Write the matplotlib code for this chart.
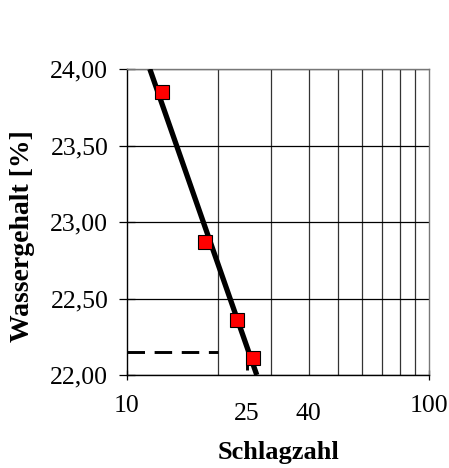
import matplotlib
matplotlib.use("Agg")
import matplotlib.pyplot as plt
from matplotlib.ticker import FixedLocator, FixedFormatter

# Data
schlagzahl = [13.1, 18.1, 23.1, 26.1]
wassergehalt = [23.85, 22.87, 22.36, 22.11]
fit_x = [11.9, 26.9]
fit_y = [24.00, 22.00]
ref_x = [10, 20]
ref_y = [22.15, 22.15]
ref_vx = [25, 25]
ref_vy = [22.03, 22.15]
grid_x = [20, 30, 40, 50, 60, 70, 80, 90]
major_xticks = [10, 100]
major_xlabels = ["10", "100"]
minor_xticks = [25, 40]
minor_xlabels = ["25", "40"]
yticks = [22.0, 22.5, 23.0, 23.5, 24.0]
ylabels = ["22,00", "22,50", "23,00", "23,50", "24,00"]

plt.rcParams['font.family'] = ['Liberation Serif', 'DejaVu Serif']

fig = plt.figure(figsize=(4.49, 4.68), dpi=100)
ax = fig.add_axes([127/449, 1-375/468, (429-127)/449, (375-69)/468])
ax.set_xscale('log')
ax.set_xlim(10, 100)
ax.set_ylim(22, 24)

for gx in grid_x:
    ax.axvline(gx, color='#333333', lw=0.9, zorder=1)
ax.set_yticks(yticks)
ax.set_yticklabels(ylabels)
ax.yaxis.grid(True, color='black', lw=0.9, zorder=1)

ax.xaxis.set_major_locator(FixedLocator(major_xticks))
ax.xaxis.set_major_formatter(FixedFormatter(major_xlabels))
ax.xaxis.set_minor_locator(FixedLocator(minor_xticks))
ax.xaxis.set_minor_formatter(FixedFormatter(minor_xlabels))

ax.tick_params(axis='y', direction='inout', length=11, width=0.9, pad=8, labelsize=18.5)
ax.tick_params(axis='x', which='major', direction='inout', length=7, width=0.9, pad=11, labelsize=18.5)
ax.tick_params(axis='x', which='minor', length=0, pad=20, labelsize=18.5)

for s in ['left', 'bottom']:
    ax.spines[s].set_color('black')
    ax.spines[s].set_linewidth(1.0)
for s in ['top', 'right']:
    ax.spines[s].set_color('#777777')
    ax.spines[s].set_linewidth(1.0)

ax.plot(ref_x, ref_y, color='black', lw=2.1, dashes=(6, 3.3), zorder=2)
ax.plot(ref_vx, ref_vy, color='black', lw=2.1, dashes=(6, 3.3), zorder=2)
ax.plot(fit_x, fit_y, color='black', lw=3.8, zorder=3, solid_capstyle='butt')
ax.plot(schlagzahl, wassergehalt, linestyle='none', marker='s', markersize=9.5,
        markerfacecolor='red', markeredgecolor='black', markeredgewidth=0.8, zorder=4)

ax.set_xlabel('Schlagzahl', fontsize=19, fontweight='bold')
ax.xaxis.set_label_coords(0.5, -0.215)
ax.set_ylabel('Wassergehalt [%]', fontsize=20, fontweight='bold')
ax.yaxis.set_label_coords(-0.305, 0.455)

fig.savefig('out.png', dpi=100)
